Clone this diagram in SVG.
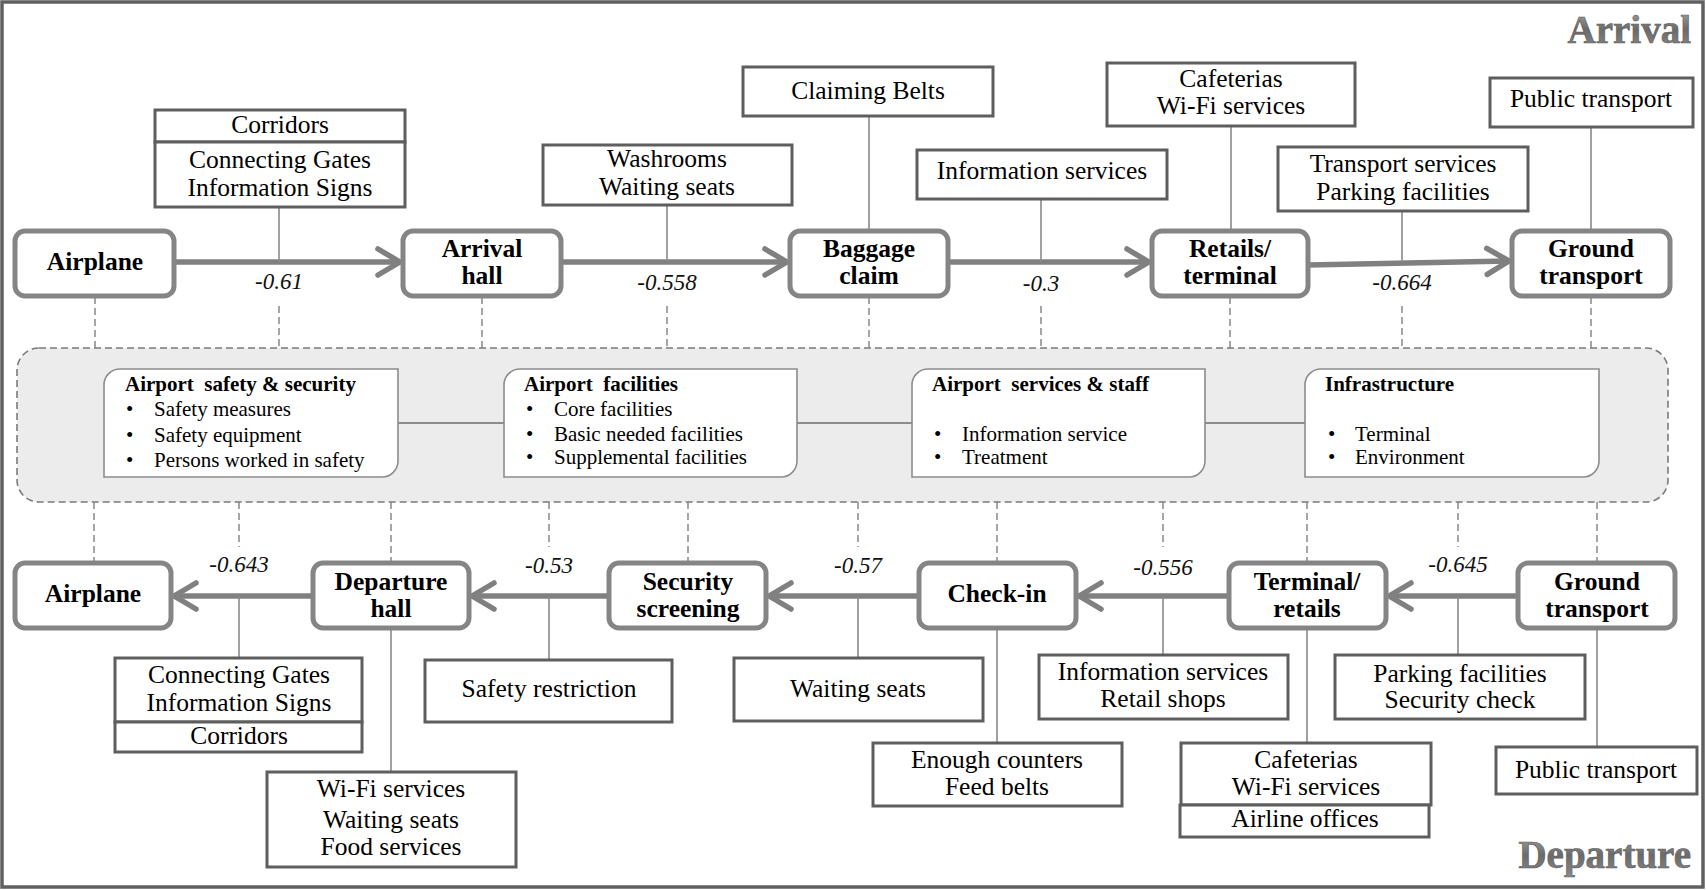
<svg xmlns="http://www.w3.org/2000/svg" width="1706" height="890" viewBox="0 0 1706 890">
  <defs>
    <linearGradient id="titleGrad" x1="0" y1="0" x2="0" y2="1">
      <stop offset="0" stop-color="#a8a8a8"/>
      <stop offset="0.5" stop-color="#6a6a6a"/>
      <stop offset="1" stop-color="#8a8a8a"/>
    </linearGradient>
    <marker id="chev" markerUnits="userSpaceOnUse" viewBox="-26 -16 30 32" refX="0" refY="0" markerWidth="30" markerHeight="32" orient="auto" overflow="visible">
      <path d="M-22,-13 L0,0 L-22,13" fill="none" stroke="#808080" stroke-width="5.5" stroke-linecap="round" stroke-linejoin="round"/>
    </marker>
    <style>
      .frame{fill:#fff;stroke:#606060;stroke-width:3.5}
      .title{font-family:"Liberation Serif","Times New Roman",serif;font-weight:bold;font-size:39px;fill:url(#titleGrad);stroke:#5a5a5a;stroke-width:0.6;text-anchor:end}
      .node rect{fill:#fff;stroke:#858585;stroke-width:5}
      .node text{font-family:"Liberation Serif","Times New Roman",serif;font-weight:bold;font-size:25.5px;fill:#000;text-anchor:middle}
      .det rect{fill:#fff;stroke:#5e5e5e;stroke-width:3}
      .det text{font-family:"Liberation Serif","Times New Roman",serif;font-size:25.5px;fill:#000;text-anchor:middle}
      .arrow{fill:none;stroke:#808080;stroke-width:5.5;marker-end:url(#chev)}
      .thin{fill:none;stroke:#8a8a8a;stroke-width:1.6}
      .dash{fill:none;stroke:#808080;stroke-width:1.4;stroke-dasharray:7 4}
      .val{font-family:"Liberation Serif","Times New Roman",serif;font-style:italic;font-size:23px;fill:#111;text-anchor:middle}
      .panel{fill:#ececec;stroke:#7a7a7a;stroke-width:1.6;stroke-dasharray:7 4}
      .cat path{fill:#fff;stroke:#8c8c8c;stroke-width:1.6}
      .cat text{font-family:"Liberation Serif","Times New Roman",serif;font-size:21px;fill:#000}
      .cat .hd{font-weight:bold}
      .link{stroke:#8c8c8c;stroke-width:2}
    </style>
  </defs>

  <!-- outer frame -->
  <rect class="frame" x="2" y="2" width="1701" height="885"/>

  <text class="title" x="1691" y="43">Arrival</text>
  <text class="title" x="1691" y="868">Departure</text>

  <!-- central factor panel -->
  <rect class="panel" x="17" y="348" width="1651" height="154" rx="22" ry="22"/>

  <!-- connectors -->
  <g id="connectors">
    <!-- arrival flow -->
    <line class="arrow" x1="174" y1="262" x2="400" y2="262"/>
    <line class="arrow" x1="561" y1="262" x2="787" y2="262"/>
    <line class="arrow" x1="948" y1="262" x2="1149" y2="262"/>
    <line class="arrow" x1="1308" y1="265" x2="1509" y2="261"/>
    <!-- departure flow -->
    <line class="arrow" x1="313" y1="596" x2="174" y2="596"/>
    <line class="arrow" x1="609" y1="596" x2="472" y2="596"/>
    <line class="arrow" x1="919" y1="596" x2="769" y2="596"/>
    <line class="arrow" x1="1229" y1="596" x2="1079" y2="596"/>
    <line class="arrow" x1="1518" y1="596" x2="1389" y2="596"/>

    <!-- attribute links, arrival -->
    <line class="thin" x1="279" y1="207" x2="279" y2="262"/>
    <line class="thin" x1="667" y1="205" x2="667" y2="262"/>
    <line class="thin" x1="869" y1="116" x2="869" y2="231"/>
    <line class="thin" x1="1041" y1="199" x2="1041" y2="262"/>
    <line class="thin" x1="1231" y1="126" x2="1231" y2="231"/>
    <line class="thin" x1="1402" y1="211" x2="1402" y2="262"/>
    <line class="thin" x1="1591" y1="127" x2="1591" y2="231"/>

    <!-- attribute links, departure -->
    <line class="thin" x1="239" y1="596" x2="239" y2="658"/>
    <line class="thin" x1="391" y1="628" x2="391" y2="772"/>
    <line class="thin" x1="549" y1="596" x2="549" y2="660"/>
    <line class="thin" x1="858" y1="596" x2="858" y2="658"/>
    <line class="thin" x1="997" y1="628" x2="997" y2="743"/>
    <line class="thin" x1="1163" y1="596" x2="1163" y2="655"/>
    <line class="thin" x1="1307" y1="628" x2="1307" y2="743"/>
    <line class="thin" x1="1458" y1="596" x2="1458" y2="655"/>
    <line class="thin" x1="1597" y1="628" x2="1597" y2="747"/>

    <!-- dashed ties to the factor panel -->
    <line class="dash" x1="95" y1="297" x2="95" y2="348"/>
    <line class="dash" x1="279" y1="306" x2="279" y2="348"/>
    <line class="dash" x1="482" y1="297" x2="482" y2="348"/>
    <line class="dash" x1="667" y1="306" x2="667" y2="348"/>
    <line class="dash" x1="869" y1="297" x2="869" y2="348"/>
    <line class="dash" x1="1041" y1="306" x2="1041" y2="348"/>
    <line class="dash" x1="1230" y1="297" x2="1230" y2="348"/>
    <line class="dash" x1="1402" y1="306" x2="1402" y2="348"/>
    <line class="dash" x1="1591" y1="297" x2="1591" y2="348"/>

    <line class="dash" x1="94" y1="502" x2="94" y2="563"/>
    <line class="dash" x1="239" y1="502" x2="239" y2="547"/>
    <line class="dash" x1="391" y1="502" x2="391" y2="563"/>
    <line class="dash" x1="549" y1="502" x2="549" y2="547"/>
    <line class="dash" x1="688" y1="502" x2="688" y2="563"/>
    <line class="dash" x1="858" y1="502" x2="858" y2="547"/>
    <line class="dash" x1="997" y1="502" x2="997" y2="563"/>
    <line class="dash" x1="1163" y1="502" x2="1163" y2="547"/>
    <line class="dash" x1="1307" y1="502" x2="1307" y2="563"/>
    <line class="dash" x1="1458" y1="502" x2="1458" y2="547"/>
    <line class="dash" x1="1597" y1="502" x2="1597" y2="563"/>

    <!-- links between factor boxes -->
    <line class="link" x1="398" y1="423" x2="504" y2="423"/>
    <line class="link" x1="797" y1="423" x2="912" y2="423"/>
    <line class="link" x1="1205" y1="423" x2="1305" y2="423"/>

    <!-- coefficients -->
    <text class="val" x="279" y="289">-0.61</text>
    <text class="val" x="667" y="290">-0.558</text>
    <text class="val" x="1041" y="291">-0.3</text>
    <text class="val" x="1402" y="290">-0.664</text>
    <text class="val" x="239" y="572">-0.643</text>
    <text class="val" x="549" y="573">-0.53</text>
    <text class="val" x="858" y="573">-0.57</text>
    <text class="val" x="1163" y="575">-0.556</text>
    <text class="val" x="1458" y="572">-0.645</text>
  </g>

  <!-- arrival stages -->
  <g id="arr-airplane" class="node"><rect x="15" y="231" width="159" height="65" rx="10"/><text x="95" y="270">Airplane</text></g>
  <g id="arr-hall" class="node"><rect x="403" y="231" width="158" height="65" rx="10"/><text x="482" y="257">Arrival</text><text x="482" y="284">hall</text></g>
  <g id="arr-baggage" class="node"><rect x="790" y="231" width="158" height="65" rx="10"/><text x="869" y="257">Baggage</text><text x="869" y="284">claim</text></g>
  <g id="arr-retails" class="node"><rect x="1152" y="231" width="156" height="65" rx="10"/><text x="1230" y="257">Retails/</text><text x="1230" y="284">terminal</text></g>
  <g id="arr-ground" class="node"><rect x="1512" y="231" width="158" height="65" rx="10"/><text x="1591" y="257">Ground</text><text x="1591" y="284">transport</text></g>

  <!-- departure stages -->
  <g id="dep-airplane" class="node"><rect x="15" y="563" width="156" height="65" rx="10"/><text x="93" y="602">Airplane</text></g>
  <g id="dep-hall" class="node"><rect x="313" y="563" width="156" height="65" rx="10"/><text x="391" y="590">Departure</text><text x="391" y="617">hall</text></g>
  <g id="dep-security" class="node"><rect x="609" y="563" width="157" height="65" rx="10"/><text x="688" y="590">Security</text><text x="688" y="617">screening</text></g>
  <g id="dep-checkin" class="node"><rect x="919" y="563" width="157" height="65" rx="10"/><text x="997" y="602">Check-in</text></g>
  <g id="dep-terminal" class="node"><rect x="1229" y="563" width="157" height="65" rx="10"/><text x="1307" y="590">Terminal/</text><text x="1307" y="617">retails</text></g>
  <g id="dep-ground" class="node"><rect x="1518" y="563" width="157" height="65" rx="10"/><text x="1597" y="590">Ground</text><text x="1597" y="617">transport</text></g>

  <!-- arrival attributes -->
  <g id="att-a1" class="det">
    <rect x="155" y="110" width="250" height="32"/>
    <rect x="155" y="142" width="250" height="65"/>
    <text x="280" y="133">Corridors</text>
    <text x="280" y="168">Connecting Gates</text>
    <text x="280" y="196">Information Signs</text>
  </g>
  <g id="att-a2" class="det"><rect x="543" y="145" width="249" height="60"/><text x="667" y="167">Washrooms</text><text x="667" y="195">Waiting seats</text></g>
  <g id="att-a3" class="det"><rect x="743" y="67" width="250" height="49"/><text x="868" y="99">Claiming Belts</text></g>
  <g id="att-a4" class="det"><rect x="917" y="150" width="250" height="49"/><text x="1042" y="179">Information services</text></g>
  <g id="att-a5" class="det"><rect x="1107" y="63" width="248" height="63"/><text x="1231" y="87">Cafeterias</text><text x="1231" y="114">Wi-Fi services</text></g>
  <g id="att-a6" class="det"><rect x="1278" y="147" width="250" height="64"/><text x="1403" y="172">Transport services</text><text x="1403" y="200">Parking facilities</text></g>
  <g id="att-a7" class="det"><rect x="1490" y="78" width="203" height="49"/><text x="1591" y="107">Public transport</text></g>

  <!-- departure attributes -->
  <g id="att-d1" class="det">
    <rect x="115" y="658" width="247" height="64"/>
    <rect x="115" y="722" width="247" height="30"/>
    <text x="239" y="683">Connecting Gates</text>
    <text x="239" y="711">Information Signs</text>
    <text x="239" y="744">Corridors</text>
  </g>
  <g id="att-d2" class="det"><rect x="267" y="772" width="249" height="95"/><text x="391" y="797">Wi-Fi services</text><text x="391" y="828">Waiting seats</text><text x="391" y="855">Food services</text></g>
  <g id="att-d3" class="det"><rect x="425" y="660" width="247" height="62"/><text x="549" y="697">Safety restriction</text></g>
  <g id="att-d4" class="det"><rect x="734" y="658" width="249" height="63"/><text x="858" y="697">Waiting seats</text></g>
  <g id="att-d5" class="det"><rect x="873" y="743" width="249" height="63"/><text x="997" y="768">Enough counters</text><text x="997" y="795">Feed belts</text></g>
  <g id="att-d6" class="det"><rect x="1039" y="655" width="249" height="64"/><text x="1163" y="680">Information services</text><text x="1163" y="707">Retail shops</text></g>
  <g id="att-d7" class="det">
    <rect x="1181" y="743" width="250" height="62"/>
    <rect x="1180" y="805" width="249" height="32"/>
    <text x="1306" y="768">Cafeterias</text>
    <text x="1306" y="795">Wi-Fi services</text>
    <text x="1305" y="827">Airline offices</text>
  </g>
  <g id="att-d8" class="det"><rect x="1335" y="655" width="250" height="64"/><text x="1460" y="682">Parking facilities</text><text x="1460" y="708">Security check</text></g>
  <g id="att-d9" class="det"><rect x="1496" y="747" width="201" height="47"/><text x="1596" y="778">Public transport</text></g>

  <!-- factor categories -->
  <g id="cat-safety" class="cat">
    <path d="M120,369 H398 V461 A16,16 0 0 1 382,477 H104 V385 A16,16 0 0 1 120,369 Z"/>
    <text class="hd" x="125" y="391">Airport&#160; safety &amp; security</text>
    <text x="126" y="416">•</text><text x="154" y="416">Safety measures</text>
    <text x="126" y="442">•</text><text x="154" y="442">Safety equipment</text>
    <text x="126" y="467">•</text><text x="154" y="467">Persons worked in safety</text>
  </g>
  <g id="cat-facilities" class="cat">
    <path d="M520,369 H797 V461 A16,16 0 0 1 781,477 H504 V385 A16,16 0 0 1 520,369 Z"/>
    <text class="hd" x="524" y="391">Airport&#160; facilities</text>
    <text x="526" y="416">•</text><text x="554" y="416">Core facilities</text>
    <text x="526" y="441">•</text><text x="554" y="441">Basic needed facilities</text>
    <text x="526" y="464">•</text><text x="554" y="464">Supplemental facilities</text>
  </g>
  <g id="cat-services" class="cat">
    <path d="M928,369 H1205 V461 A16,16 0 0 1 1189,477 H912 V385 A16,16 0 0 1 928,369 Z"/>
    <text class="hd" x="932" y="391">Airport&#160; services &amp; staff</text>
    <text x="934" y="441">•</text><text x="962" y="441">Information service</text>
    <text x="934" y="464">•</text><text x="962" y="464">Treatment</text>
  </g>
  <g id="cat-infra" class="cat">
    <path d="M1321,369 H1599 V461 A16,16 0 0 1 1583,477 H1305 V385 A16,16 0 0 1 1321,369 Z"/>
    <text class="hd" x="1325" y="391">Infrastructure</text>
    <text x="1328" y="441">•</text><text x="1355" y="441">Terminal</text>
    <text x="1328" y="464">•</text><text x="1355" y="464">Environment</text>
  </g>
</svg>
